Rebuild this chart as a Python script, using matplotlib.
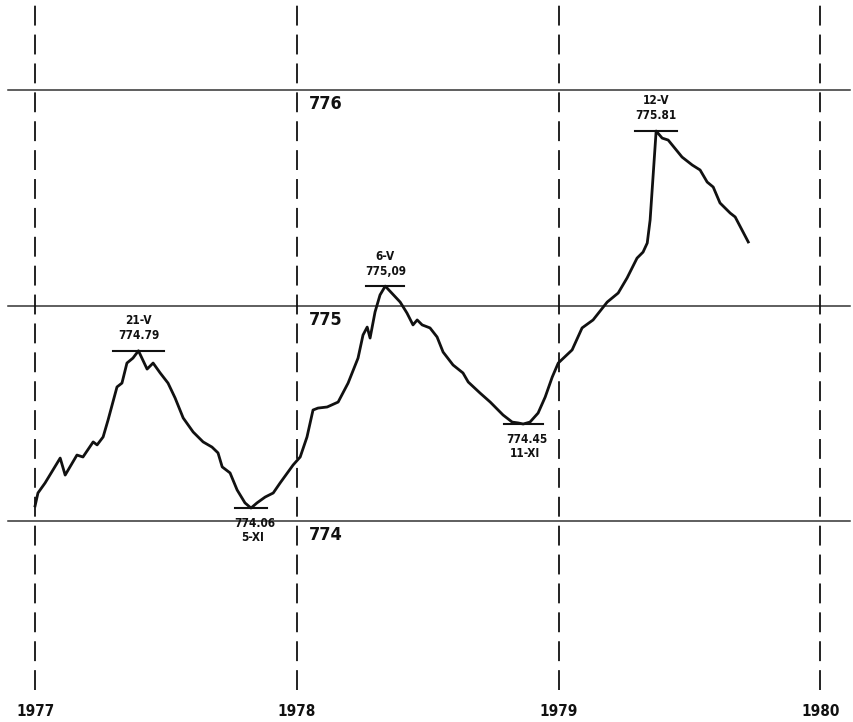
import matplotlib
matplotlib.use('Agg')
import matplotlib.pyplot as plt

# water level, decimal years since 1 Jan 1977 and metres above 774
t = [0.0, 0.011, 0.038, 0.096, 0.115, 0.160, 0.183, 0.222, 0.237, 0.260,
     0.279, 0.313, 0.332, 0.351, 0.374, 0.395, 0.428, 0.451, 0.478, 0.508,
     0.535, 0.566, 0.604, 0.642, 0.676, 0.699, 0.715, 0.745, 0.772, 0.802,
     0.825, 0.848, 0.879, 0.910, 0.936, 0.986, 1.013, 1.039, 1.062, 1.081,
     1.116, 1.158, 1.196, 1.234, 1.253, 1.269, 1.280, 1.299, 1.318, 1.338,
     1.395, 1.421, 1.444, 1.460, 1.479, 1.509, 1.536, 1.559, 1.597, 1.635,
     1.655, 1.700, 1.739, 1.788, 1.823, 1.846, 1.865, 1.891, 1.922, 1.949,
     1.976, 1.999, 2.052, 2.090, 2.132, 2.186, 2.228, 2.262, 2.300, 2.323,
     2.339, 2.350, 2.373, 2.396, 2.419, 2.472, 2.511, 2.541, 2.568, 2.591,
     2.617, 2.656, 2.675, 2.725]
lv = [0.07, 0.130, 0.176, 0.292, 0.213, 0.306, 0.297, 0.367, 0.353, 0.390,
      0.469, 0.622, 0.640, 0.733, 0.756, 0.79, 0.705, 0.733, 0.687, 0.640,
      0.571, 0.478, 0.413, 0.367, 0.343, 0.316, 0.251, 0.223, 0.144, 0.084,
      0.06, 0.084, 0.111, 0.130, 0.176, 0.260, 0.297, 0.390, 0.515, 0.524,
      0.529, 0.552, 0.640, 0.756, 0.863, 0.900, 0.849, 0.970, 1.049, 1.09,
      1.016, 0.965, 0.910, 0.933, 0.910, 0.896, 0.854, 0.784, 0.724, 0.687,
      0.645, 0.594, 0.552, 0.492, 0.459, 0.455, 0.45, 0.459, 0.501, 0.575,
      0.668, 0.733, 0.794, 0.896, 0.933, 1.016, 1.058, 1.128, 1.220, 1.248,
      1.290, 1.397, 1.81, 1.777, 1.768, 1.689, 1.652, 1.629, 1.573, 1.550,
      1.476, 1.429, 1.411, 1.295]
years = [1977, 1978, 1979, 1980]
levels = [774, 775, 776]

# extremes: date label, value label, time, level, bar width, on top?
ext_dates = ['21-V', '6-V', '12-V', '5-XI', '11-XI']
ext_values = ['774.79', '775,09', '775.81', '774.06', '774.45']
ext_t = [0.395, 1.338, 2.373, 0.825, 1.865]
ext_lv = [774.79, 775.09, 775.81, 774.06, 774.45]
ext_w = [0.195, 0.145, 0.16, 0.126, 0.149]
ext_top = [True, True, True, False, False]

x = [1977 + v for v in t]
y = [774 + v for v in lv]

fig = plt.figure(figsize=(8.54, 7.22), dpi=100)
ax = fig.add_axes([0, 0, 1, 1])
ax.set_xlim(1976.866, 1980.129)
ax.set_ylim(773.067, 776.418)
ax.axis('off')

font = dict(family='DejaVu Sans', stretch='condensed', color='#111111')

for lev in levels:
    ax.axhline(lev, xmin=0.009, xmax=0.995, color='#333333', lw=1.1)
    ax.annotate(str(lev), (1978, lev), xytext=(12, -14), textcoords='offset pixels',
                fontsize=13, fontweight='bold', ha='left', va='center', **font)

for yr in years:
    ax.plot([yr, yr], [773.216, 776.418], color='#111111', lw=1.3,
            linestyle=(0, (11, 5)))
    ax.annotate(str(yr), (yr, 773.067), xytext=(0, 10), textcoords='offset pixels',
                fontsize=11, fontweight='bold', ha='center', va='center', **font)

ax.plot(x, y, color='#111111', lw=2.0, solid_joinstyle='round')

for d, v, et, el, w, top in zip(ext_dates, ext_values, ext_t, ext_lv, ext_w, ext_top):
    xc = 1977 + et
    ax.plot([xc - w / 2, xc + w / 2], [el, el], color='#111111', lw=1.5)
    if top:
        ax.annotate(v, (xc, el), xytext=(0, 15), textcoords='offset pixels',
                    fontsize=8.5, fontweight='bold', ha='center', va='center', **font)
        ax.annotate(d, (xc, el), xytext=(0, 30), textcoords='offset pixels',
                    fontsize=8.5, fontweight='bold', ha='center', va='center', **font)
    else:
        ax.annotate(v, (xc, el), xytext=(4, -15), textcoords='offset pixels',
                    fontsize=8.5, fontweight='bold', ha='center', va='center', **font)
        ax.annotate(d, (xc, el), xytext=(2, -29), textcoords='offset pixels',
                    fontsize=8.5, fontweight='bold', ha='center', va='center', **font)

fig.savefig('out.png', dpi=100, facecolor='white')
